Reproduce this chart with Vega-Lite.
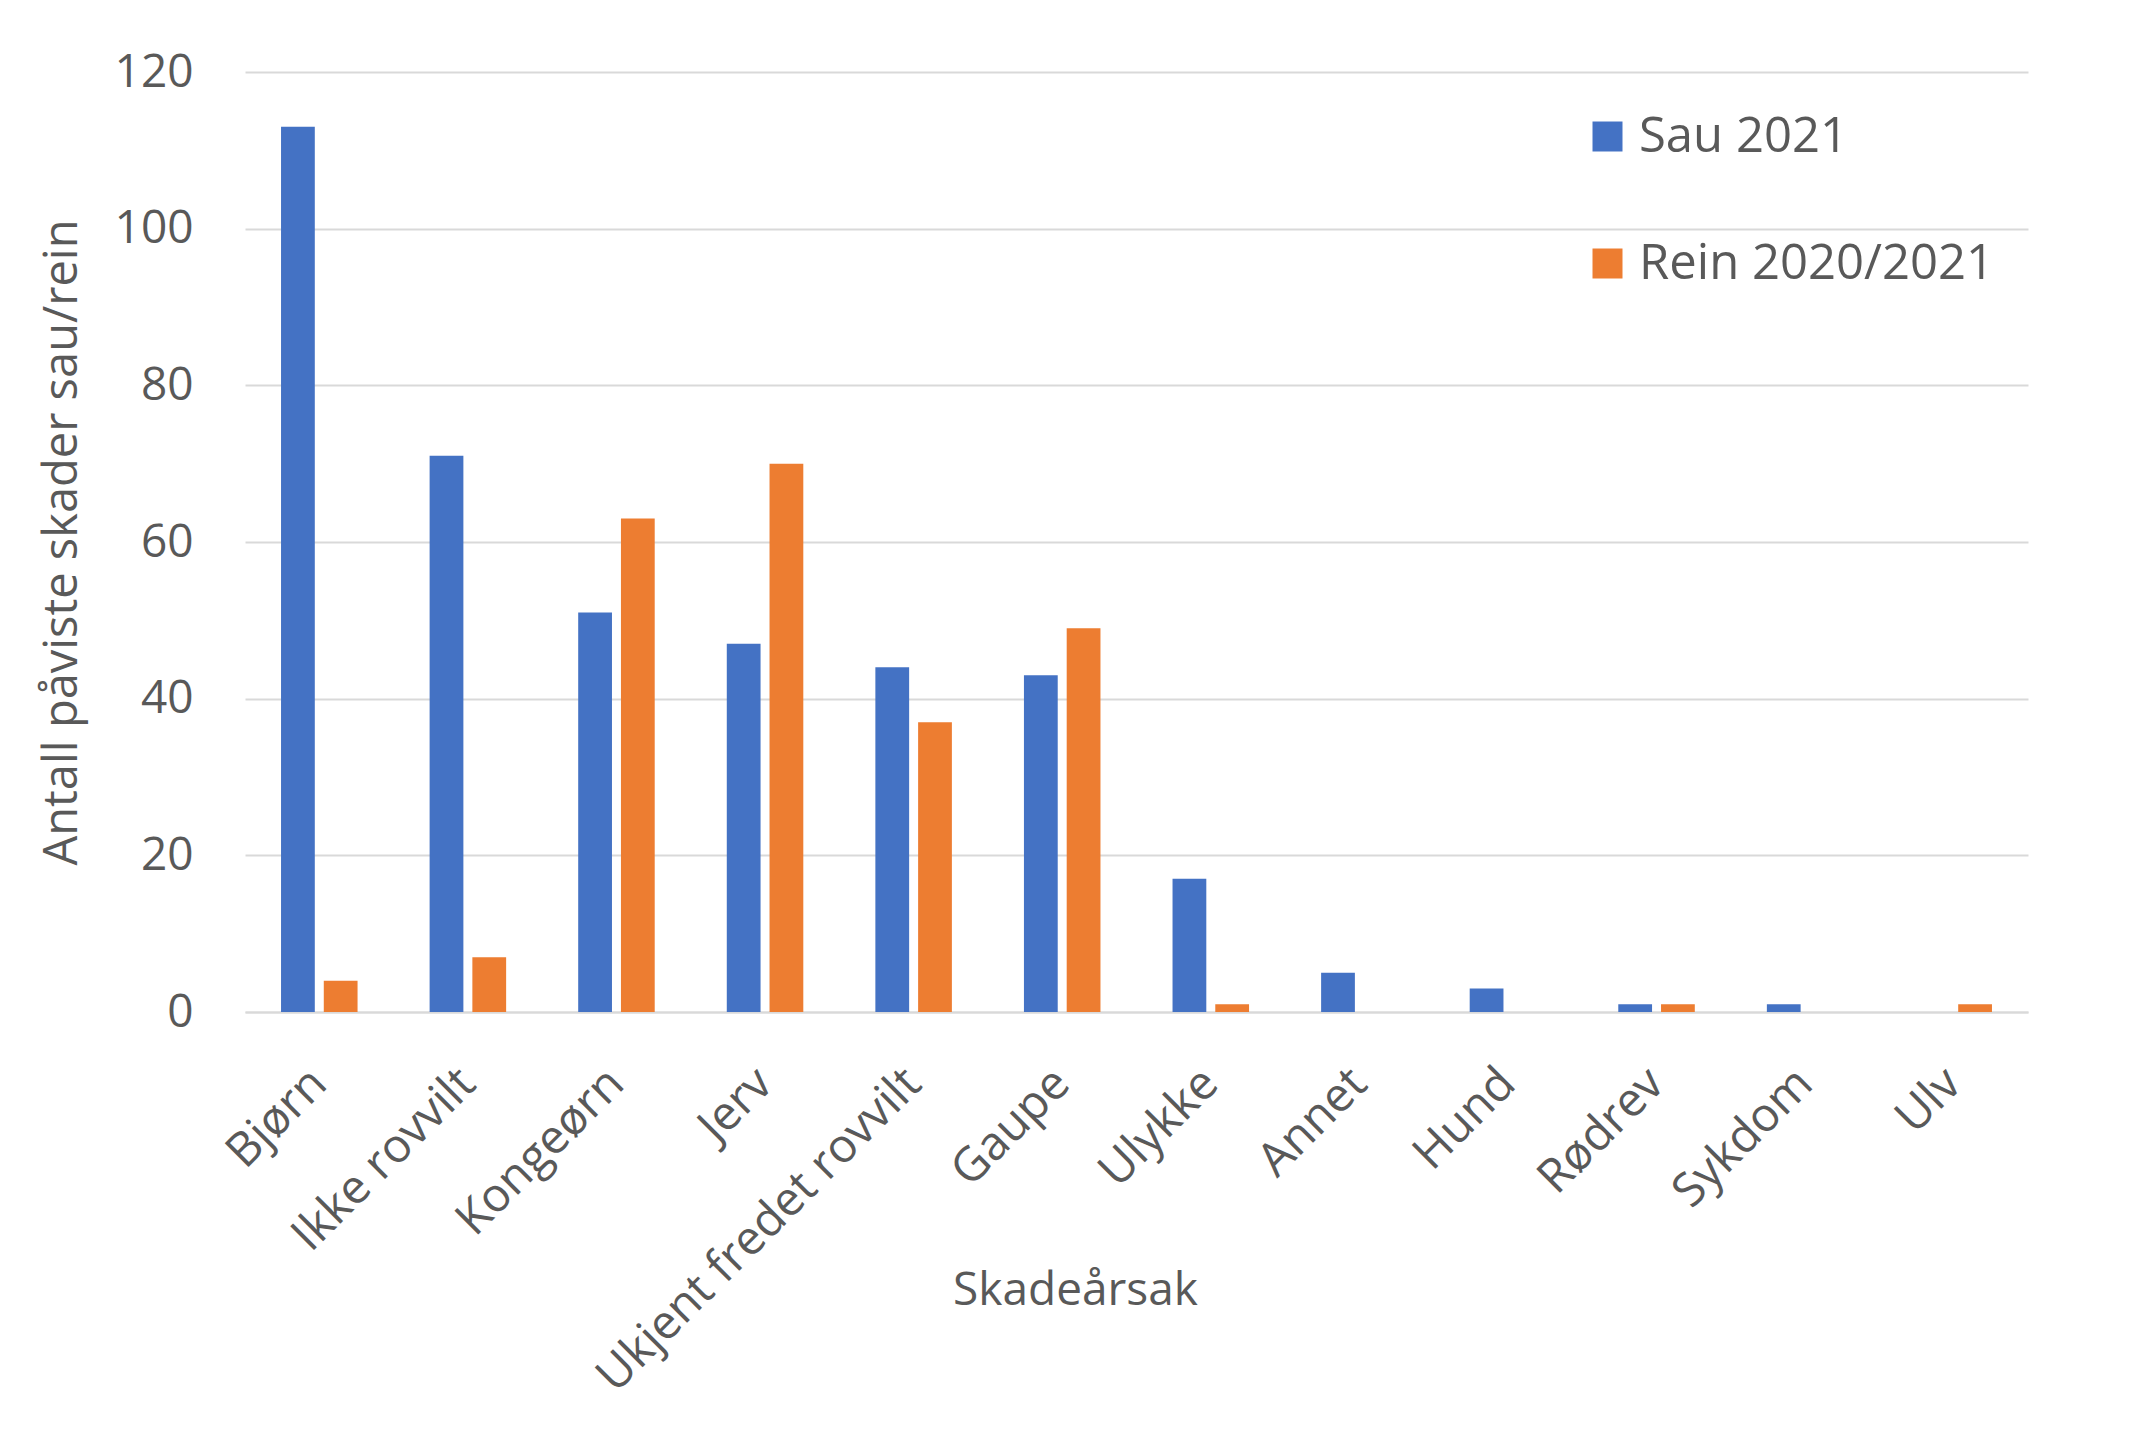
{
  "$schema": "https://vega.github.io/schema/vega-lite/v6.json",
  "width": 1783,
  "height": 940,
  "autosize": {"type": "none"},
  "padding": {"left": 245, "top": 72, "right": 120, "bottom": 432},
  "background": "white",
  "config": {
    "view": {"stroke": null},
    "font": "Open Sans",
    "axis": {"labelColor": "#595959", "titleColor": "#595959", "labelFont": "Open Sans", "titleFont": "Open Sans", "titleFontWeight": "normal"},
    "legend": {"labelColor": "#595959", "labelFont": "Open Sans"}
  },
  "data": {
    "values": [
      {"cause": "Bjørn", "series": "Sau 2021", "value": 113},
      {"cause": "Bjørn", "series": "Rein 2020/2021", "value": 4},
      {"cause": "Ikke rovvilt", "series": "Sau 2021", "value": 71},
      {"cause": "Ikke rovvilt", "series": "Rein 2020/2021", "value": 7},
      {"cause": "Kongeørn", "series": "Sau 2021", "value": 51},
      {"cause": "Kongeørn", "series": "Rein 2020/2021", "value": 63},
      {"cause": "Jerv", "series": "Sau 2021", "value": 47},
      {"cause": "Jerv", "series": "Rein 2020/2021", "value": 70},
      {"cause": "Ukjent fredet rovvilt", "series": "Sau 2021", "value": 44},
      {"cause": "Ukjent fredet rovvilt", "series": "Rein 2020/2021", "value": 37},
      {"cause": "Gaupe", "series": "Sau 2021", "value": 43},
      {"cause": "Gaupe", "series": "Rein 2020/2021", "value": 49},
      {"cause": "Ulykke", "series": "Sau 2021", "value": 17},
      {"cause": "Ulykke", "series": "Rein 2020/2021", "value": 1},
      {"cause": "Annet", "series": "Sau 2021", "value": 5},
      {"cause": "Annet", "series": "Rein 2020/2021", "value": 0},
      {"cause": "Hund", "series": "Sau 2021", "value": 3},
      {"cause": "Hund", "series": "Rein 2020/2021", "value": 0},
      {"cause": "Rødrev", "series": "Sau 2021", "value": 1},
      {"cause": "Rødrev", "series": "Rein 2020/2021", "value": 1},
      {"cause": "Sykdom", "series": "Sau 2021", "value": 1},
      {"cause": "Sykdom", "series": "Rein 2020/2021", "value": 0},
      {"cause": "Ulv", "series": "Sau 2021", "value": 0},
      {"cause": "Ulv", "series": "Rein 2020/2021", "value": 1}
    ]
  },
  "mark": "bar",
  "encoding": {
    "x": {
      "field": "cause",
      "type": "nominal",
      "sort": null,
      "scale": {"paddingInner": 0.485, "paddingOuter": 0.2425},
      "axis": {
        "title": "Skadeårsak",
        "titleFontSize": 46,
        "titleX": 830,
        "titleY": 278,
        "titleBaseline": "middle",
        "titleAnchor": null,
        "labelAngle": -45,
        "labelFontSize": 47,
        "labelPadding": 64,
        "labelAlign": "right",
        "labelBaseline": "middle",
        "labelLimit": 0,
        "labelOverlap": false,
        "ticks": false,
        "domainColor": "#d9d9d9",
        "domainWidth": 2
      }
    },
    "xOffset": {
      "field": "series",
      "type": "nominal",
      "sort": ["Sau 2021", "Rein 2020/2021"],
      "scale": {"paddingInner": 0.21, "paddingOuter": 0}
    },
    "y": {
      "field": "value",
      "type": "quantitative",
      "scale": {"domain": [0, 120], "nice": false},
      "axis": {
        "title": "Antall påviste skader sau/rein",
        "titleFontSize": 47,
        "titleX": -183,
        "titleY": 470,
        "titleAngle": -90,
        "titleAlign": "center",
        "titleBaseline": "middle",
        "titleLimit": 0,
        "values": [0, 20, 40, 60, 80, 100, 120],
        "labelFontSize": 46,
        "labelPadding": 52,
        "ticks": false,
        "domain": false,
        "gridColor": "#d9d9d9",
        "gridWidth": 2
      }
    },
    "color": {
      "field": "series",
      "type": "nominal",
      "scale": {"domain": ["Sau 2021", "Rein 2020/2021"], "range": ["#4472C4", "#ED7D31"]},
      "legend": {
        "title": null,
        "orient": "none",
        "legendX": 1338,
        "legendY": 40,
        "padding": 0,
        "symbolType": "square",
        "symbolSize": 900,
        "symbolStrokeWidth": 0,
        "labelFontSize": 49,
        "labelOffset": 7,
        "labelLimit": 0,
        "rowPadding": 77
      }
    }
  }
}
